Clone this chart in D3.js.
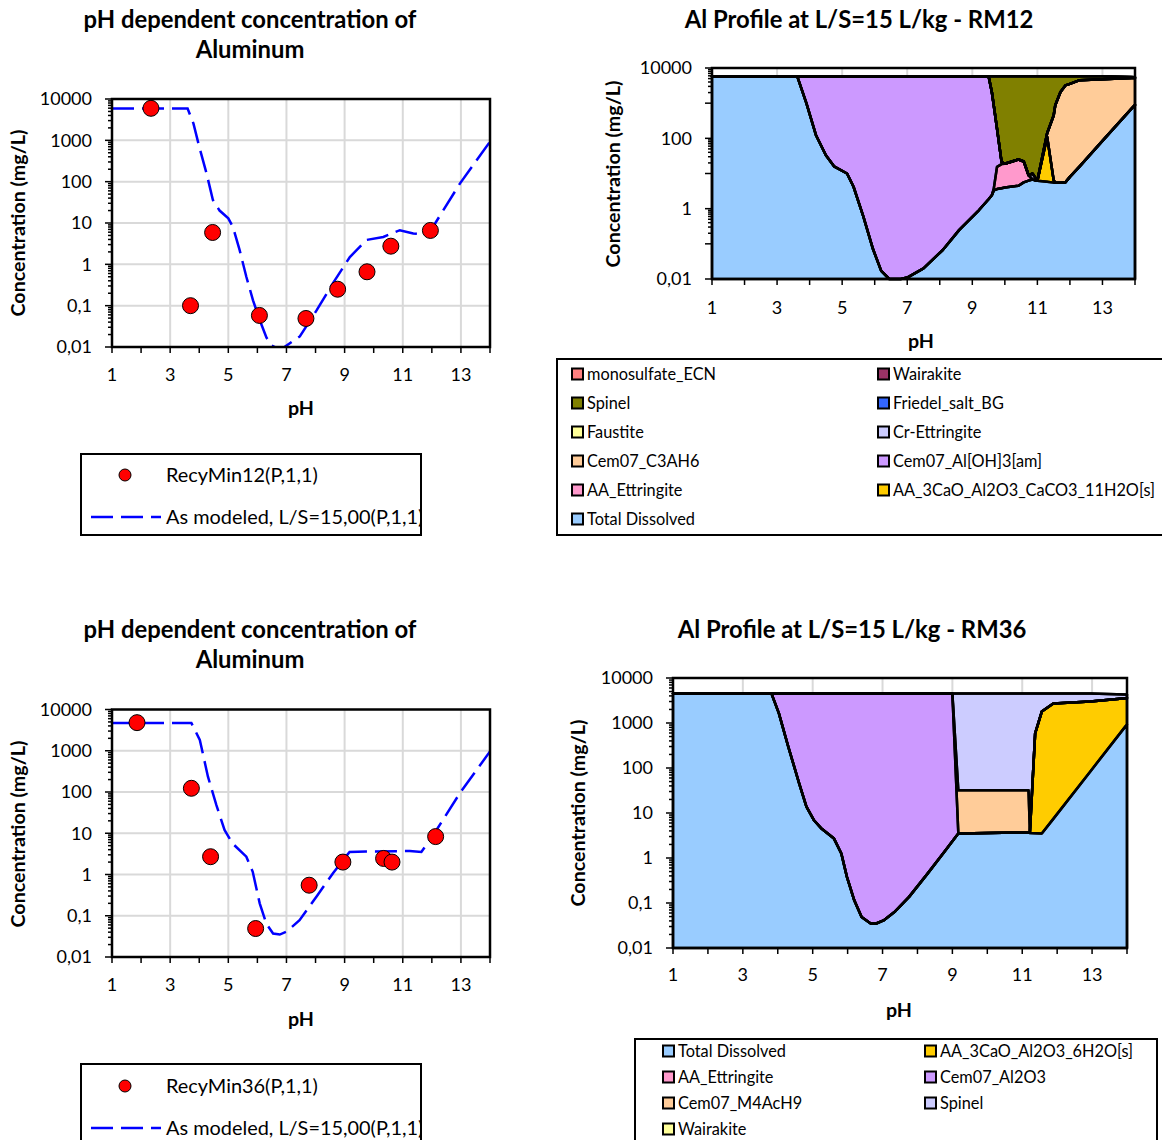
<!DOCTYPE html>
<html>
<head>
<meta charset="utf-8">
<script src="https://cdn.jsdelivr.net/npm/d3@7"></script>
<style>
  body { margin: 0; background: #fff; }
  text { font-family: Lato, "Open Sans", sans-serif; fill: #000; }
</style>
</head>
<body>
<svg id="chart" width="1162" height="1140"></svg>
<script>
(function () {
  'use strict';

  // ---- axes ----
  var xTicks = [1, 3, 5, 7, 9, 11, 13];
  var yTicksDecade = [0.01, 0.1, 1, 10, 100, 1000, 10000];
  var yTicksRM12 = [0.01, 1, 100, 10000];

  // ---- RM12 measured / modeled ----
  var measPH12 = [2.34, 3.70, 4.46, 6.07, 7.67, 8.76, 9.77, 10.59, 11.95];
  var measAl12 = [5950, 0.1, 5.9, 0.058, 0.049, 0.25, 0.66, 2.75, 6.6];
  var modPH12 = [1, 3.6, 3.8, 4.0, 4.25, 4.47, 4.7, 5.0, 5.16, 5.39, 5.62, 5.85, 6.08, 6.31, 6.48, 6.65, 6.93,
    7.46, 8.04, 8.6, 9.18, 9.76, 10.33, 10.9, 11.36, 11.7, 12.04, 12.97, 14];
  var modAl12 = [5900, 5900, 2570, 700, 160, 36, 20, 13, 8, 2.2, 0.5, 0.135, 0.045, 0.017, 0.011, 0.0095, 0.01,
    0.018, 0.078, 0.35, 1.5, 3.9, 4.6, 6.7, 5.6, 5.3, 8.1, 91, 930];

  // ---- RM36 measured / modeled ----
  var measPH36 = [1.86, 3.73, 4.39, 5.94, 7.78, 8.94, 10.34, 10.63, 12.13];
  var measAl36 = [4800, 123, 2.7, 0.049, 0.55, 2.0, 2.45, 2.0, 8.3];
  var modPH36 = [1, 3.73, 4.02, 4.30, 4.59, 4.87, 5.15, 5.62, 5.84, 6.08, 6.31, 6.54, 6.77, 7.0, 7.45, 8.03,
    8.6, 8.94, 9.17, 9.74, 11.24, 11.64, 12.16, 12.96, 14];
  var modAl36 = [4700, 4700, 1830, 235, 48, 12, 5.6, 2.7, 1.16, 0.2, 0.064, 0.037, 0.035, 0.041, 0.078, 0.29,
    1.07, 2.2, 3.5, 3.6, 3.7, 3.5, 12, 93, 960];

  // ---- RM12 Al profile (mg/L per phase) ----
  var phGrid12 = [1, 3.62, 3.9, 4.2, 4.5, 4.75, 5.15, 5.35, 5.65, 5.95,
    6.2, 6.45, 6.8, 7.0, 7.5, 8.1, 8.6, 9.2, 9.5, 9.6,
    9.66, 9.76, 9.9, 10.0, 10.42, 10.58, 10.73, 10.85, 11.0, 11.3,
    11.5, 11.55, 11.71, 11.86, 12.0, 12.3, 13.0, 13.9, 14];
  var total12 = [5800, 5800, 1000, 120, 33, 16, 10, 4.2, 0.6, 0.07,
    0.017, 0.0095, 0.0095, 0.011, 0.02, 0.068, 0.25, 0.9, 1.85, 2.4,
    3.3, 3.6, 3.8, 4.0, 4.5, 5.6, 6.3, 6.7, 6.2, 5.8,
    5.5, 5.5, 5.5, 5.6, 8, 16, 85, 710, 890];
  var aa3CaCO3_12 = [0, 0, 0, 0, 0, 0, 0, 0, 0, 0,
    0, 0, 0, 0, 0, 0, 0, 0, 0, 0,
    0, 0, 0, 0, 0, 0, 0, 0, 0, 104,
    1, 0, 0, 0, 0, 0, 0, 0, 0];
  var aaEtt12 = [0, 0, 0, 0, 0, 0, 0, 0, 0, 0,
    0, 0, 0, 0, 0, 0, 0, 0, 0, 0,
    0.4, 11.9, 14.7, 15, 20.5, 16.4, 2.6, 0, 0, 0,
    0, 0, 0, 0, 0, 0, 0, 0, 0];
  var alOH3_12 = [0, 0, 4800, 5680, 5767, 5784, 5790, 5796, 5799, 5800,
    5800, 5800, 5800, 5800, 5800, 5800, 5800, 5799, 5798, 2078,
    846, 169.5, 2.5, 0, 0, 0, 0, 0, 0, 0,
    0, 0, 0, 0, 0, 0, 0, 0, 0];
  var c3ah6_12 = [0, 0, 0, 0, 0, 0, 0, 0, 0, 0,
    0, 0, 0, 0, 0, 0, 0, 0, 0, 0,
    0, 0, 0, 0, 0, 0, 0, 0, 0, 30,
    438.5, 864.5, 2074.5, 3194, 3542, 4484, 4715, 4490, 4310];
  var crEtt12 = [0, 0, 0, 0, 0, 0, 0, 0, 0, 0,
    0, 0, 0, 0, 0, 0, 0, 0, 0, 0,
    0, 0, 0, 0, 0, 0, 0, 3.3, 0, 0,
    0, 0, 0, 0, 0, 0, 0, 0, 0];
  var faustite12 = [];
  var friedel12 = [];
  var spinel12 = [0, 0, 0, 0, 0, 0, 0, 0, 0, 0,
    0, 0, 0, 0, 0, 0, 0, 0, 0, 3720,
    4950, 5615, 5779, 5781, 5775, 5778, 5791, 5790, 5794, 5660,
    5355, 4930, 3720, 2600, 2250, 1300, 1000, 350, 300];
  var wairakite12 = [];
  var monosulfate12 = [];

  var keys12 = ['Total Dissolved', 'AA_3CaO_Al2O3_CaCO3_11H2O[s]', 'AA_Ettringite', 'Cem07_Al[OH]3[am]',
    'Cem07_C3AH6', 'Cr-Ettringite', 'Faustite', 'Friedel_salt_BG', 'Spinel', 'Wairakite', 'monosulfate_ECN'];
  var colors12 = ['#99ccff', '#ffcc00', '#ff99cc', '#cc99ff', '#ffcc99', '#ccccff', '#ffff99', '#3366ff',
    '#808000', '#993366', '#ff8080'];

  // ---- RM36 Al profile (mg/L per phase) ----
  var phGrid36 = [1, 3.82, 4.03, 4.3, 4.61, 4.82, 5.03, 5.24, 5.61, 5.82,
    5.98, 6.19, 6.4, 6.66, 6.82, 7.03, 7.34, 7.76, 8.29, 8.81,
    9.0, 9.17, 11.18, 11.22, 11.37, 11.56, 11.89, 12.95, 13.95, 14];
  var total36 = [4500, 4500, 1660, 300, 46, 13.8, 7.0, 4.6, 2.7, 1.26,
    0.38, 0.115, 0.049, 0.035, 0.035, 0.041, 0.063, 0.137, 0.45, 1.5,
    2.35, 3.5, 3.7, 3.6, 3.55, 3.5, 7.4, 84, 830, 930];
  var aa3CaO6H2O_36 = [0, 0, 0, 0, 0, 0, 0, 0, 0, 0,
    0, 0, 0, 0, 0, 0, 0, 0, 0, 0,
    0, 0, 0, 0.2, 586, 1796, 2692, 2916, 2720, 2670];
  var aaEtt36 = [];
  var al2o3_36 = [0, 0, 2840, 4200, 4454, 4486, 4493, 4495, 4497, 4499,
    4500, 4500, 4500, 4500, 4500, 4500, 4500, 4500, 4500, 4500,
    4498, 0, 0, 0, 0, 0, 0, 0, 0, 0];
  var m4ach9_36 = [0, 0, 0, 0, 0, 0, 0, 0, 0, 0,
    0, 0, 0, 0, 0, 0, 0, 0, 0, 0,
    0, 28.5, 28.3, 0, 0, 0, 0, 0, 0, 0];
  var spinel36 = [0, 0, 0, 0, 0, 0, 0, 0, 0, 0,
    0, 0, 0, 0, 0, 0, 0, 0, 0, 0,
    0, 4468, 4468, 4496, 3910, 2700, 1800, 1500, 750, 650];
  var wairakite36 = [];

  var keys36 = ['Total Dissolved', 'AA_3CaO_Al2O3_6H2O[s]', 'AA_Ettringite', 'Cem07_Al2O3',
    'Cem07_M4AcH9', 'Spinel', 'Wairakite'];
  var colors36 = ['#99ccff', '#ffcc00', '#ff99cc', '#cc99ff', '#ffcc99', '#ccccff', '#ffff99'];

  var svg = d3.select('#chart');
  var GRID = '#d9d9d9';

  // size a font so a sample string gets the width it has in the original
  function fitSize(s, bold, target) {
    var t = svg.append('text').attr('font-size', 100).attr('font-weight', bold ? 'bold' : 'normal').text(s);
    var w = t.node().getComputedTextLength();
    t.remove();
    return w > 0 ? 100 * target / w : 18;
  }
  var TITLE_SIZE = fitSize('pH dependent concentration of', true, 333);
  var AXIS_TITLE_SIZE = fitSize('Concentration (mg/L)', true, 187);
  var LEGEND_SIZE = fitSize('RecyMin12(P,1,1)', false, 152);
  var KEY_SIZE = fitSize('AA_3CaO_Al2O3_CaCO3_11H2O[s]', false, 262);
  var TICK_SIZE = 18;

  function fmt(v) { return String(v).replace('.', ','); }

  function logMinor(decades) {
    var out = [];
    decades.forEach(function (d) {
      for (var k = 2; k <= 9; k++) out.push(k * Math.pow(10, d));
    });
    return out;
  }

  function text(g, s, x, y, size, opt) {
    opt = opt || {};
    var t = g.append('text').attr('x', x).attr('y', y).attr('dy', '0.35em')
      .attr('font-size', size).attr('text-anchor', opt.anchor || 'middle')
      .attr('font-weight', opt.bold ? 'bold' : 'normal').text(s);
    if (opt.rotate) t.attr('transform', 'rotate(-90,' + x + ',' + y + ')');
    return t;
  }

  function drawAxes(g, c, x, y, yLabels, minorVals, majorVals) {
    var ticks = g.append('g').attr('stroke', '#000').attr('stroke-width', 1.5);
    ticks.selectAll('line.xt').data(d3.range(1, 15)).enter().append('line')
      .attr('x1', x).attr('x2', x).attr('y1', c.bottom).attr('y2', c.bottom + 6);
    ticks.selectAll('line.ymaj').data(majorVals).enter().append('line')
      .attr('x1', c.left - 7).attr('x2', c.left).attr('y1', y).attr('y2', y);
    ticks.selectAll('line.ymin').data(minorVals).enter().append('line')
      .attr('x1', c.left - 4).attr('x2', c.left).attr('y1', y).attr('y2', y);

    g.append('rect').attr('x', c.left).attr('y', c.top)
      .attr('width', c.right - c.left).attr('height', c.bottom - c.top)
      .attr('fill', 'none').attr('stroke', '#000').attr('stroke-width', 2.5);

    xTicks.forEach(function (v) { text(g, v, x(v), c.xLabelY, TICK_SIZE); });
    yLabels.forEach(function (v) { text(g, fmt(v), c.yLabelX, y(v), TICK_SIZE, {anchor: 'end'}); });

    text(g, 'pH', c.pHx, c.pHy, AXIS_TITLE_SIZE, {bold: true});
    text(g, 'Concentration (mg/L)', c.yTitleX, c.yTitleY, AXIS_TITLE_SIZE, {bold: true, rotate: true});
    c.title.forEach(function (s, i) { text(g, s, c.titleX, c.titleY + i * 30, TITLE_SIZE, {bold: true}); });
  }

  function scatterChart(c) {
    var g = svg.append('g');
    var x = d3.scaleLinear().domain([1, 14]).range([c.left, c.right]);
    var y = d3.scaleLog().domain([0.01, 10000]).range([c.bottom, c.top]);

    g.selectAll('line.vg').data(xTicks.slice(1)).enter().append('line')
      .attr('x1', x).attr('x2', x).attr('y1', c.top).attr('y2', c.bottom)
      .attr('stroke', GRID).attr('stroke-width', 2);
    g.selectAll('line.hg').data(yTicksDecade.slice(1, -1)).enter().append('line')
      .attr('x1', c.left).attr('x2', c.right).attr('y1', y).attr('y2', y)
      .attr('stroke', GRID).attr('stroke-width', 2);

    g.append('clipPath').attr('id', 'clip' + c.id).append('rect')
      .attr('x', c.left).attr('y', c.top).attr('width', c.right - c.left).attr('height', c.bottom - c.top);

    var line = d3.line()
      .x(function (d) { return x(d[0]); })
      .y(function (d) { return y(d[1]); });
    g.append('path').datum(d3.zip(c.modPH, c.modAl))
      .attr('clip-path', 'url(#clip' + c.id + ')')
      .attr('d', line).attr('fill', 'none').attr('stroke', '#0000ff')
      .attr('stroke-width', 2.5).attr('stroke-dasharray', '22,8');

    g.selectAll('circle.pt').data(d3.zip(c.measPH, c.measAl)).enter().append('circle')
      .attr('cx', function (d) { return x(d[0]); })
      .attr('cy', function (d) { return y(d[1]); })
      .attr('r', 8).attr('fill', '#ff0000').attr('stroke', '#000').attr('stroke-width', 1);

    drawAxes(g, c, x, y, yTicksDecade, logMinor([-2, -1, 0, 1, 2, 3]), yTicksDecade);

    // legend
    var L = c.legend;
    var lg = g.append('g');
    lg.append('clipPath').attr('id', 'lclip' + c.id).append('rect')
      .attr('x', L.x).attr('y', L.y).attr('width', L.w).attr('height', L.h);
    var inner = lg.append('g').attr('clip-path', 'url(#lclip' + c.id + ')');
    inner.append('rect').attr('x', L.x).attr('y', L.y).attr('width', L.w).attr('height', L.h).attr('fill', '#fff');
    inner.append('circle').attr('cx', L.x + 44).attr('cy', L.row1).attr('r', 6)
      .attr('fill', '#ff0000').attr('stroke', '#000').attr('stroke-width', 1);
    text(inner, c.measName, L.x + 85, L.row1, LEGEND_SIZE, {anchor: 'start'});
    inner.append('line').attr('x1', L.x + 10).attr('x2', L.x + 80).attr('y1', L.row2).attr('y2', L.row2)
      .attr('stroke', '#0000ff').attr('stroke-width', 2.5).attr('stroke-dasharray', '22,8');
    text(inner, c.modName, L.x + 85, L.row2, LEGEND_SIZE, {anchor: 'start'});
    lg.append('rect').attr('x', L.x).attr('y', L.y).attr('width', L.w).attr('height', L.h)
      .attr('fill', 'none').attr('stroke', '#000').attr('stroke-width', 2);
  }

  function stackChart(c) {
    var g = svg.append('g');
    var x = d3.scaleLinear().domain([1, 14]).range([c.left, c.right]);
    var y = d3.scaleLog().domain([0.01, 10000]).range([c.bottom, c.top]);

    var rows = c.ph.map(function (p, i) {
      var r = {ph: p};
      c.keys.forEach(function (k, j) { r[k] = c.series[j][i] || 0; });
      return r;
    });
    var layers = d3.stack().keys(c.keys)(rows);

    g.selectAll('line.vg').data(xTicks.slice(1)).enter().append('line')
      .attr('x1', x).attr('x2', x).attr('y1', c.top).attr('y2', c.bottom)
      .attr('stroke', GRID).attr('stroke-width', 2);

    var area = d3.area()
      .x(function (d) { return x(d.data.ph); })
      .y0(function (d) { return y(Math.max(d[0], 0.01)); })
      .y1(function (d) { return y(Math.max(d[1], 0.01)); });

    g.selectAll('path.fill').data(layers).enter().append('path')
      .attr('d', area).attr('fill', function (d, i) { return c.colors[i]; });
    g.selectAll('path.edge').data(layers).enter().append('path')
      .attr('d', area).attr('fill', 'none').attr('stroke', '#000')
      .attr('stroke-width', 2.5).attr('stroke-linejoin', 'round');

    drawAxes(g, c, x, y, c.yLabels, c.minor, yTicksDecade);

    // legend
    var L = c.legend;
    var lg = g.append('g');
    lg.append('rect').attr('x', L.x).attr('y', L.y).attr('width', L.w).attr('height', L.h)
      .attr('fill', '#fff').attr('stroke', '#000').attr('stroke-width', 2);
    c.legendOrder.forEach(function (idx, n) {
      var col = n % 2, row = Math.floor(n / 2);
      var sx = L.cols[col], sy = L.row0 + row * L.dy;
      lg.append('rect').attr('x', sx).attr('y', sy - 5.5).attr('width', 11).attr('height', 11)
        .attr('fill', c.colors[idx]).attr('stroke', '#000').attr('stroke-width', 2);
      text(lg, c.keys[idx], sx + 15, sy, KEY_SIZE, {anchor: 'start'});
    });
  }

  scatterChart({
    id: 'tl', left: 112, right: 490, top: 99, bottom: 347,
    xLabelY: 375, yLabelX: 92, pHx: 301, pHy: 408, yTitleX: 18, yTitleY: 223,
    title: ['pH dependent concentration of', 'Aluminum'], titleX: 250, titleY: 20,
    measPH: measPH12, measAl: measAl12, modPH: modPH12, modAl: modAl12,
    measName: 'RecyMin12(P,1,1)', modName: 'As modeled, L/S=15,00(P,1,1)',
    legend: {x: 81, y: 454, w: 340, h: 81, row1: 475, row2: 517}
  });

  scatterChart({
    id: 'bl', left: 112, right: 490, top: 709.5, bottom: 957,
    xLabelY: 985, yLabelX: 92, pHx: 301, pHy: 1019, yTitleX: 18, yTitleY: 834,
    title: ['pH dependent concentration of', 'Aluminum'], titleX: 250, titleY: 630,
    measPH: measPH36, measAl: measAl36, modPH: modPH36, modAl: modAl36,
    measName: 'RecyMin36(P,1,1)', modName: 'As modeled, L/S=15,00(P,1,1)',
    legend: {x: 81, y: 1064, w: 340, h: 100, row1: 1086, row2: 1128}
  });

  stackChart({
    left: 712, right: 1135, top: 68, bottom: 279,
    xLabelY: 308, yLabelX: 692, pHx: 921, pHy: 341, yTitleX: 613, yTitleY: 174,
    title: ['Al Profile at L/S=15 L/kg - RM12'], titleX: 859, titleY: 20,
    ph: phGrid12, keys: keys12, colors: colors12,
    series: [total12, aa3CaCO3_12, aaEtt12, alOH3_12, c3ah6_12, crEtt12, faustite12, friedel12,
      spinel12, wairakite12, monosulfate12],
    yLabels: yTicksRM12, minor: logMinor([-1, 1, 3]),
    legendOrder: [10, 9, 8, 7, 6, 5, 4, 3, 2, 1, 0],
    legend: {x: 557, y: 359, w: 620, h: 176, cols: [572, 878], row0: 374, dy: 29}
  });

  stackChart({
    left: 673, right: 1127, top: 678, bottom: 948,
    xLabelY: 975, yLabelX: 653, pHx: 899, pHy: 1010, yTitleX: 578, yTitleY: 813,
    title: ['Al Profile at L/S=15 L/kg - RM36'], titleX: 852, titleY: 630,
    ph: phGrid36, keys: keys36, colors: colors36,
    series: [total36, aa3CaO6H2O_36, aaEtt36, al2o3_36, m4ach9_36, spinel36, wairakite36],
    yLabels: yTicksDecade, minor: logMinor([-2, -1, 0, 1, 2, 3]),
    legendOrder: [0, 1, 2, 3, 4, 5, 6],
    legend: {x: 635, y: 1039, w: 522, h: 120, cols: [663, 925], row0: 1051, dy: 26}
  });
})();
</script>
</body>
</html>
